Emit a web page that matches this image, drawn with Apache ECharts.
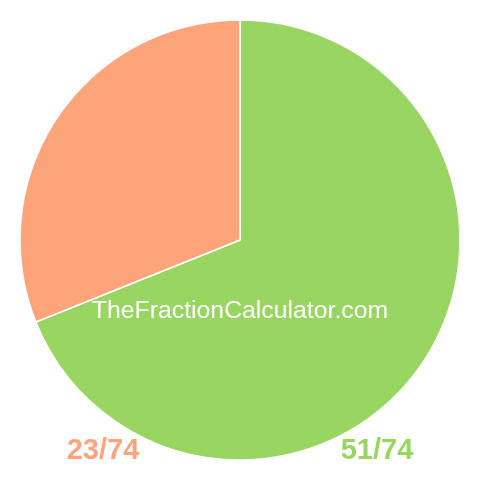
<!DOCTYPE html>
<html><head><meta charset="utf-8">
<script src="https://cdn.jsdelivr.net/npm/echarts@6/dist/echarts.min.js"></script>
<style>html,body{margin:0;padding:0;background:#fff}#c{width:480px;height:480px}</style>
</head><body><div id="c"></div>
<script>
const labels = ['51/74', '23/74'];
const values = [51, 23];
const colors = ['#99d561', '#fda47a'];
const watermark = 'TheFractionCalculator.com';

const chart = echarts.init(document.getElementById('c'), null, {renderer: 'canvas'});
chart.setOption({
  animation: false,
  series: [{
    type: 'pie',
    center: [240, 240],
    radius: [0, 220],
    startAngle: 90,
    clockwise: true,
    label: {show: false},
    labelLine: {show: false},
    itemStyle: {borderColor: '#fff', borderWidth: 1.5},
    emphasis: {disabled: true},
    data: values.map((v, i) => ({value: v, name: labels[i], itemStyle: {color: colors[i]}}))
  }],
  graphic: [
    {type: 'text', z: 100, x: 240, y: 311, style: {text: watermark, fill: '#fff', font: '24.8px "Liberation Sans", Arial, sans-serif', align: 'center', verticalAlign: 'middle'}},
    {type: 'text', z: 100, x: 103, y: 451, style: {text: labels[1], fill: colors[1], font: 'bold 29px "Liberation Sans", Arial, sans-serif', align: 'center', verticalAlign: 'middle'}},
    {type: 'text', z: 100, x: 377, y: 451, style: {text: labels[0], fill: colors[0], font: 'bold 29px "Liberation Sans", Arial, sans-serif', align: 'center', verticalAlign: 'middle'}}
  ]
});
</script></body></html>
